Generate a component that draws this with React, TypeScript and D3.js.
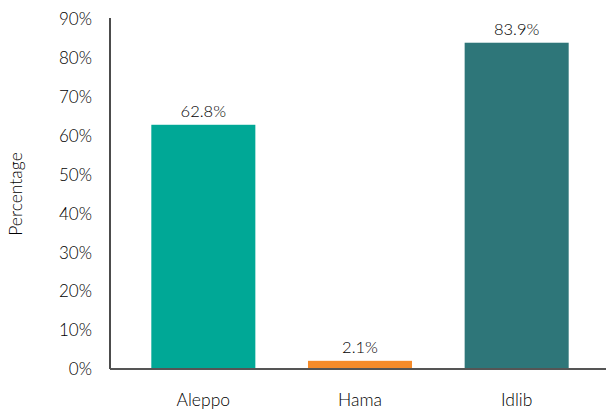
import React from "react";
import * as d3 from "d3";

const categories = ["Aleppo", "Hama", "Idlib"];
const values = [62.8, 2.1, 83.9];
const barColors = ["#00a896", "#f68b29", "#2e7679"];
const yTicks = [0, 10, 20, 30, 40, 50, 60, 70, 80, 90];
const yLabel = "Percentage";

const W = 606;
const H = 411;
const FONT = "Lato, 'Open Sans', sans-serif";

export default function App() {
  const x = d3
    .scaleBand<string>()
    .domain(categories)
    .range([125, 595])
    .paddingInner(0.336)
    .paddingOuter(0.168);
  const y = d3.scaleLinear().domain([0, 90]).range([369, 19]);

  return (
    <svg
      width={W}
      height={H}
      style={{ position: "absolute", left: 0, top: 0, background: "#fff" }}
      fontFamily={FONT}
      fontWeight={300}
    >
      {categories.map((c, i) => (
        <g key={c}>
          <rect
            x={x(c)}
            y={y(values[i])}
            width={x.bandwidth()}
            height={y(0) - y(values[i])}
            fill={barColors[i]}
          />
          <text
            x={(x(c) ?? 0) + x.bandwidth() / 2}
            y={y(values[i]) - 8}
            textAnchor="middle"
            fontSize={16.5}
            fill="#000"
          >
            {values[i].toFixed(1)}%
          </text>
          <text
            x={(x(c) ?? 0) + x.bandwidth() / 2}
            y={406}
            textAnchor="middle"
            fontSize={17.5}
            fill="#000"
          >
            {c}
          </text>
        </g>
      ))}
      {yTicks.map((t) => (
        <text
          key={t}
          x={92}
          y={y(t) + 2}
          textAnchor="end"
          dominantBaseline="middle"
          fontSize={17}
          fill="#000"
        >
          {t}%
        </text>
      ))}
      <line x1={110} x2={110} y1={18} y2={y(0)} stroke="#111" strokeWidth={1.5} />
      <line x1={110} x2={606} y1={y(0)} y2={y(0)} stroke="#555" strokeWidth={2} />
      <text
        transform={`translate(22, ${(y(0) + y(90)) / 2}) rotate(-90)`}
        textAnchor="middle"
        fontSize={17.5}
        fill="#000"
      >
        {yLabel}
      </text>
    </svg>
  );
}
